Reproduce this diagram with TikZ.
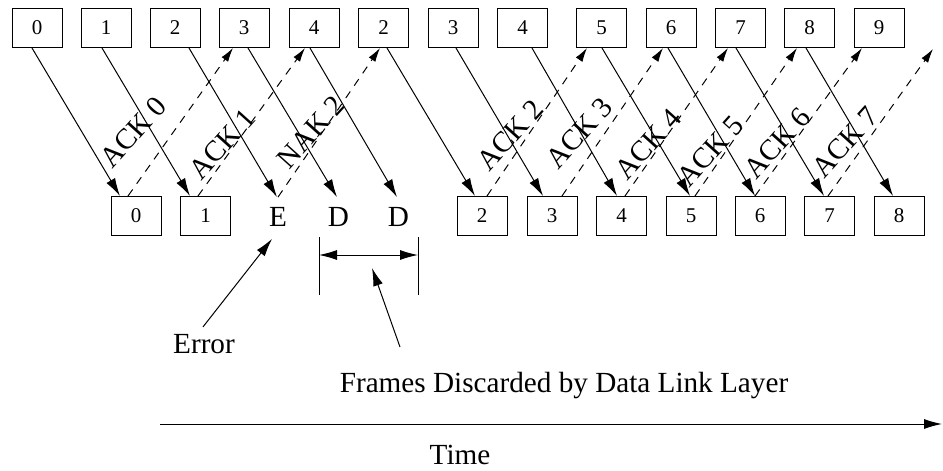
\documentclass[tikz,border=0pt]{standalone}
\usepackage{fontspec}
\setmainfont{Liberation Serif}
\usetikzlibrary{calc,arrows.meta}

\begin{document}
\begin{tikzpicture}[x=0.5pt,y=-0.5pt,
    frame/.style={shape=rectangle,draw=black,line width=0.5pt,minimum width=25pt,minimum height=19.5pt,inner sep=0pt,font=\fontsize{10.5}{12}\selectfont},
    big/.style={inner sep=0pt,font=\fontsize{14.6}{17}\selectfont},
    slot/.style={big,minimum height=19.5pt},
    acklabel/.style={big,rotate=48},
    data/.style={-{Latex[length=9pt,width=5pt]},line width=0.5pt},
    span/.style={{Latex[length=9pt,width=5pt]}-{Latex[length=9pt,width=5pt]},line width=0.5pt},
    ack/.style={-{Latex[length=7pt,width=4pt]},line width=0.5pt,dash pattern=on 4pt off 3.5pt}]
        \useasboundingbox (0,0) rectangle (943,471);
        % sender
        \node[frame] (T0) at (37,28) {0};
        \node[frame] (T1) at (106,28) {1};
        \node[frame] (T2) at (175,28) {2};
        \node[frame] (T3) at (244,28) {3};
        \node[frame] (T4) at (314,28) {4};
        \node[frame] (T5) at (383.5,28) {2};
        \node[frame] (T6) at (453,28) {3};
        \node[frame] (T7) at (522.5,28) {4};
        \node[frame] (T8) at (601.5,28) {5};
        \node[frame] (T9) at (671,28) {6};
        \node[frame] (T10) at (740.5,28) {7};
        \node[frame] (T11) at (809.5,28) {8};
        \node[frame] (T12) at (879,28) {9};
        % receiver
        \node[frame] (R0) at (136,216) {0};
        \node[frame] (R1) at (205.5,216) {1};
        \node[slot] (E) at (278,217) {E};
        \node[slot] (D1) at (338.5,217) {D};
        \node[slot] (D2) at (398.5,217) {D};
        \node[frame] (R2) at (482,216) {2};
        \node[frame] (R3) at (552,216) {3};
        \node[frame] (R4) at (621.5,216) {4};
        \node[frame] (R5) at (691,216) {5};
        \node[frame] (R6) at (760,216) {6};
        \node[frame] (R7) at (829.5,216) {7};
        \node[frame] (R8) at (899,216) {8};
        \coordinate (last) at (933,49);
        % frames
        \draw[data] ($(T0.south)+(-5,0)$) -- ($(R0.north)+(-16,0)$);
        \draw[data] ($(T1.south)+(-4,0)$) -- ($(R1.north)+(-15.5,0)$);
        \draw[data] ($(T2.south)+(14,0)$) -- ($(E.north)+(-1,0)$);
        \draw[data] ($(T3.south)+(4,0)$) -- ($(D1.north)+(-1.5,0)$);
        \draw[data] ($(T4.south)+(-4,0)$) -- ($(D2.north)+(-1.5,0)$);
        \draw[data] ($(T5.south)+(3.5,0)$) -- ($(R2.north)+(-7,0)$);
        \draw[data] ($(T6.south)+(3,0)$) -- ($(R3.north)+(-9,0)$);
        \draw[data] ($(T7.south)+(9.5,0)$) -- ($(R4.north)+(-4.5,0)$);
        \draw[data] ($(T8.south)+(0.5,0)$) -- ($(R5.north)+(-1,0)$);
        \draw[data] ($(T9.south)+(-3,0)$) -- ($(R6.north)+(-5,0)$);
        \draw[data] ($(T10.south)+(-4.5,0)$) -- ($(R7.north)+(-5.5,0)$);
        \draw[data] ($(T11.south)+(-3.5,0)$) -- ($(R8.north)+(-6,0)$);
        % acks
        \draw[ack] ($(R0.north)+(-8,0)$) -- ($(T3.south)+(-11,0)$);
        \draw[ack] ($(R1.north)+(-7.5,0)$) -- ($(T4.south)+(-9,0)$);
        \draw[ack] (E.north) -- ($(T5.south)+(-3.5,0)$);
        \draw[ack] ($(R2.north)+(5,0)$) -- ($(T8.south)+(-14.5,0)$);
        \draw[ack] ($(R3.north)+(10,0)$) -- ($(T9.south)+(-8,0)$);
        \draw[ack] ($(R4.north)+(3.5,0)$) -- ($(T10.south)+(-12.5,0)$);
        \draw[ack] ($(R5.north)+(4,0)$) -- ($(T11.south)+(-12.5,0)$);
        \draw[ack] ($(R6.north)+(-5,0)$) -- ($(T12.south)+(-17,0)$);
        \draw[ack] ($(R7.north)+(-1.5,0)$) -- (last);
        \node[acklabel] (a0) at (133,132) {ACK 0};
        \node[acklabel] (a1) at (222,144) {ACK 1};
        \node[acklabel] (n2) at (311,132) {NAK 2};
        \node[acklabel] (a2) at (510,135) {ACK 2};
        \node[acklabel] (a3) at (579,133) {ACK 3};
        \node[acklabel] (a4) at (648,144) {ACK 4};
        \node[acklabel] (a5) at (710,151) {ACK 5};
        \node[acklabel] (a6) at (777,143) {ACK 6};
        \node[acklabel] (a7) at (845,142) {ACK 7};
        % error and discarded frames
        \node[big] (err) at (204,344) {Error};
        \draw[data] ($(err.north)+(-1,-7)$) -- ($(E.south)+(-6,2)$);
        \coordinate (bl) at (319,237);
        \coordinate (br) at (418,237);
        \draw[line width=0.5pt] (bl) -- ++(0,58);
        \draw[line width=0.5pt] (br) -- ++(0,58);
        \draw[span] ($(bl)+(0,18)$) -- ($(br)+(0,18)$);
        \node[big] (frames) at (564,386) {Frames Discarded by Data Link Layer};
        \coordinate (ptail) at (400,347);
        \coordinate (ptip) at (372,268);
        \draw[data] (ptail) -- (ptip);
        % time axis
        \coordinate (t0) at (160,424);
        \coordinate (t1) at (942,424);
        \draw[data] (t0) -- (t1);
        \node[big] (time) at (460,455) {Time};
    \end{tikzpicture}
\end{document}
